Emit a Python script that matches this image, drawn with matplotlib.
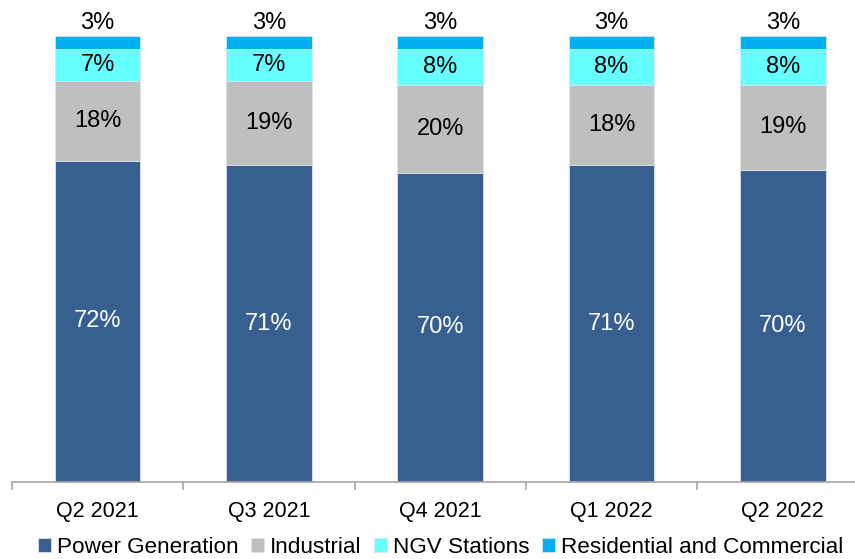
import matplotlib
matplotlib.use("Agg")
import matplotlib.pyplot as plt
import numpy as np

plt.rcParams['font.family'] = ['Liberation Sans', 'DejaVu Sans']

quarters = ["Q2 2021", "Q3 2021", "Q4 2021", "Q1 2022", "Q2 2022"]
power = [72, 71, 70, 71, 70]
industrial = [18, 19, 20, 18, 19]
ngv = [7, 7, 8, 8, 8]
residential = [3, 3, 3, 3, 3]

series_names = ["Power Generation", "Industrial", "NGV Stations", "Residential and Commercial"]
colors = ["#375F8F", "#BFBFBF", "#66FFFF", "#00B0F0"]
text_colors = ["white", "black", "black", "black"]

data = np.array([power, industrial, ngv, residential], dtype=float)
# 100% stacked: each quarter's shares scaled to fill the full bar
shares = data / data.sum(axis=0) * 100

fig = plt.figure(figsize=(8.55, 5.59), dpi=100)
ax = fig.add_axes([12/855, 77/559, 856.5/855, 446/559])

x = np.arange(len(quarters))
bottom = np.zeros(len(quarters))
handles = []
for i, (name, col) in enumerate(zip(series_names, colors)):
    bars = ax.bar(x, shares[i], 0.5, bottom=bottom, color=col, label=name,
                  edgecolor="#D9E2EC", linewidth=0.6)
    handles.append(bars)
    for xi, b, h, v in zip(x, bottom, shares[i], data[i]):
        if i == len(series_names) - 1:
            ax.text(xi, b + h + 0.4, f"{v:.0f}%", ha="center", va="bottom",
                    fontsize=17, color=text_colors[i])
        else:
            ax.text(xi, b + h / 2, f"{v:.0f}%", ha="center", va="center",
                    fontsize=17, color=text_colors[i])
    bottom += shares[i]

ax.set_xlim(-0.5, len(quarters) - 0.5)
ax.set_ylim(0, 100)
ax.set_yticks([])
for s in ["left", "right", "top"]:
    ax.spines[s].set_visible(False)
ax.spines["bottom"].set_color("#A6A6A6")
ax.spines["bottom"].set_linewidth(1.2)

ax.set_xticks(x)
ax.set_xticklabels(quarters, fontsize=15.5)
ax.tick_params(axis="x", which="major", length=0, pad=14)
ax.set_xticks(np.arange(-0.5, len(quarters), 1.0), minor=True)
ax.tick_params(axis="x", which="minor", length=6, width=1.2, color="#A6A6A6")

fig.legend(handles=handles, labels=series_names, loc="lower center",
           bbox_to_anchor=(0.515, -0.014), ncol=4, frameon=False, fontsize=16.2,
           handlelength=0.6, handleheight=0.6, handletextpad=0.25,
           columnspacing=0.55, borderaxespad=0.0)

fig.savefig("out.png", dpi=100)
